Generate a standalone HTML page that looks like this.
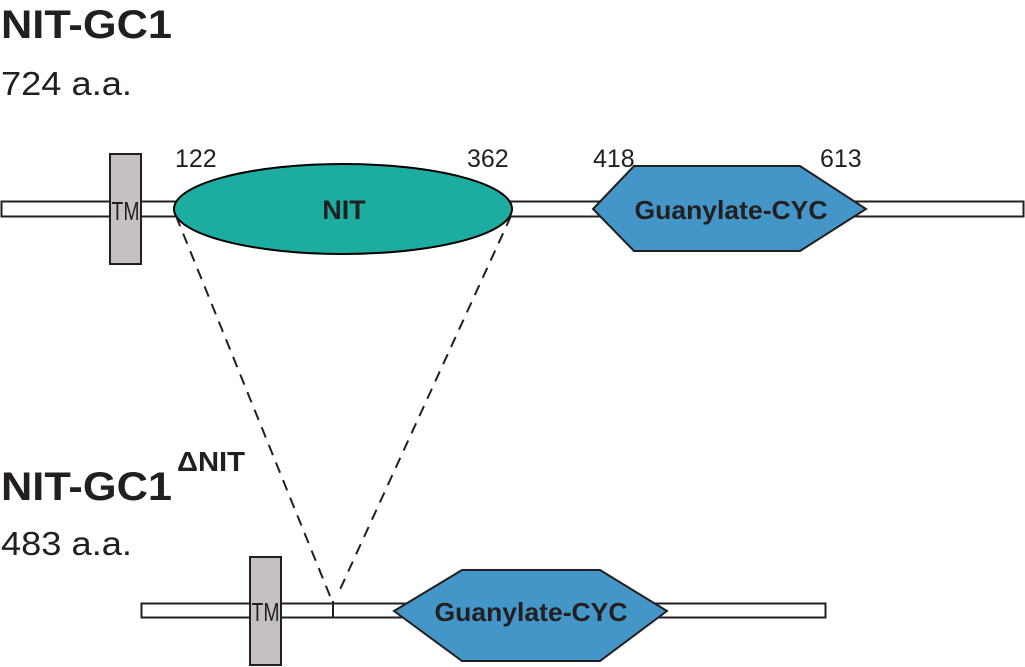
<!DOCTYPE html>
<html><head><meta charset="utf-8"><style>
body{margin:0;background:#fff}
svg{display:block}
text{font-family:"Liberation Sans",Arial,sans-serif;fill:#231f20}
</style></head><body>
<svg width="1025" height="667" viewBox="0 0 1025 667">
<text x="1" y="38" font-size="40" font-weight="bold" textLength="171" lengthAdjust="spacingAndGlyphs">NIT-GC1</text>
<text x="1" y="95" font-size="33" textLength="131" lengthAdjust="spacingAndGlyphs">724 a.a.</text>
<text x="175" y="167" font-size="25">122</text>
<text x="467" y="167" font-size="25">362</text>
<text x="593" y="167" font-size="25">418</text>
<text x="820" y="167" font-size="25">613</text>
<rect x="1.5" y="201.5" width="1022" height="15" fill="#fff" stroke="#231f20" stroke-width="2"/>
<rect x="110" y="154" width="31" height="110" fill="#c5c1c1" stroke="#231f20" stroke-width="2"/>
<text x="125.5" y="220" font-size="26" text-anchor="middle" textLength="28" lengthAdjust="spacingAndGlyphs">TM</text>
<ellipse cx="343" cy="209" rx="169" ry="45" fill="#1cada0" stroke="#000" stroke-width="2"/>
<text x="344" y="219" font-size="27" font-weight="bold" text-anchor="middle">NIT</text>
<polygon points="593,209 634,166 800,166 866,209 800,251 634,251" fill="#4496c8" stroke="#231f20" stroke-width="2"/>
<text x="731" y="219" font-size="26" font-weight="bold" text-anchor="middle" textLength="193" lengthAdjust="spacingAndGlyphs">Guanylate-CYC</text>
<line x1="176" y1="216" x2="330" y2="596" stroke="#231f20" stroke-width="2" stroke-dasharray="11,8"/>
<line x1="511" y1="216" x2="337" y2="596" stroke="#231f20" stroke-width="2" stroke-dasharray="11,8"/>
<text x="1" y="500" font-size="40" font-weight="bold" textLength="171" lengthAdjust="spacingAndGlyphs">NIT-GC1</text>
<text x="177" y="471" font-size="28" font-weight="bold" textLength="68" lengthAdjust="spacingAndGlyphs">ΔNIT</text>
<text x="1" y="555" font-size="33" textLength="131" lengthAdjust="spacingAndGlyphs">483 a.a.</text>
<rect x="141.5" y="603.5" width="684" height="14" fill="#fff" stroke="#231f20" stroke-width="2"/>
<line x1="333" y1="601" x2="333" y2="618" stroke="#231f20" stroke-width="2"/>
<rect x="250" y="557" width="31" height="108" fill="#c5c1c1" stroke="#231f20" stroke-width="2"/>
<text x="265.5" y="621" font-size="26" text-anchor="middle" textLength="28" lengthAdjust="spacingAndGlyphs">TM</text>
<polygon points="394,611 462,570 600,570 667,611 600,661 462,661" fill="#4496c8" stroke="#231f20" stroke-width="2"/>
<text x="531" y="621" font-size="26" font-weight="bold" text-anchor="middle" textLength="193" lengthAdjust="spacingAndGlyphs">Guanylate-CYC</text>
</svg>
</body></html>
